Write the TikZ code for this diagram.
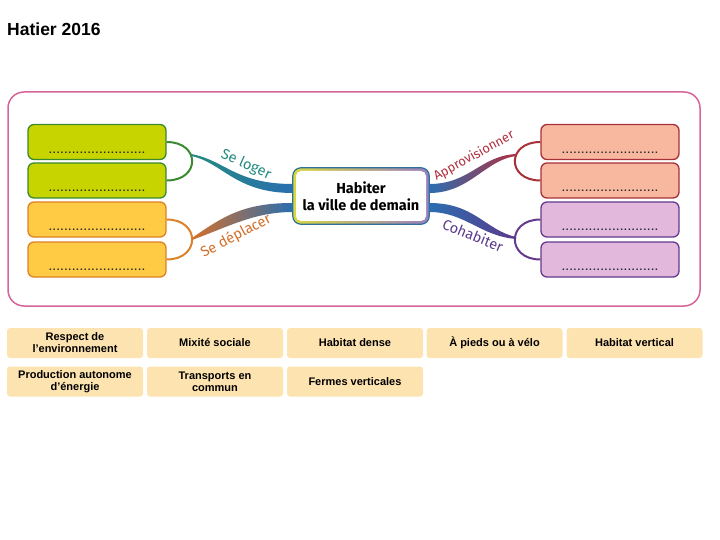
\documentclass[tikz,border=0pt]{standalone}
\usepackage{fontspec}
\usepackage{tikz}
\usetikzlibrary{
	positioning,
	calc,
	backgrounds
}
\newfontfamily\mapfont{Fira Sans}
\newfontfamily\cardfont{Liberation Sans}

\definecolor{leafgreen}{HTML}{C8D400}
\definecolor{leafgreenline}{HTML}{3A8A30}
\definecolor{leaforange}{HTML}{FFCB45}
\definecolor{leaforangeline}{HTML}{DC8228}
\definecolor{leafsalmon}{HTML}{F8B8A0}
\definecolor{leafsalmonline}{HTML}{A83038}
\definecolor{leafmauve}{HTML}{E2B8DC}
\definecolor{leafmauveline}{HTML}{643A8C}
\definecolor{frameline}{HTML}{D6669A}
\definecolor{cardpeach}{HTML}{FDE3B0}
\definecolor{hubblue}{HTML}{2A6EB0}
\definecolor{hubedge}{HTML}{2E7098}
\definecolor{hubyellow}{HTML}{D8D840}
\definecolor{hubviolet}{HTML}{9A80C0}
\definecolor{tealtext}{HTML}{238C80}
\definecolor{orangetext}{HTML}{D2702C}
\definecolor{redtext}{HTML}{B03040}
\definecolor{purpletext}{HTML}{5C3A8C}

\begin{document}
\begin{tikzpicture}[
	x=1pt, y=-1pt,
	c_leaf/.style={
		draw,
		line width=1.3pt,
		rounded corners=6pt,
		minimum width=138pt,
		minimum height=35pt,
		inner sep=0pt
	},
	c_dots/.style={
		font=\cardfont\bfseries\fontsize{10}{10}\selectfont\addfontfeatures{LetterSpace=11},
		text=black!85,
		inner sep=0pt,
		anchor=base
	},
	c_card/.style={
		fill=cardpeach,
		rounded corners=3pt,
		minimum width=136pt,
		minimum height=30pt,
		inner sep=1pt,
		align=center,
		font=\cardfont\bfseries\fontsize{11}{12}\selectfont
	},
	c_branch/.style={
		font=\mapfont\fontsize{14.5}{14.5}\selectfont,
		inner sep=0pt
	},
	c_link/.style={
		line width=2pt
	}
	]

	\useasboundingbox (0,0) rectangle (720,540);

	% =========================================================================
	% TITLE
	% =========================================================================

	\node[font=\cardfont\bfseries\fontsize{17.5}{17.5}\selectfont,
	anchor=base west, inner sep=0pt]
	(title) at (7,36) {Hatier 2016};

	% =========================================================================
	% CENTRE
	% =========================================================================

	\node[
	fill=white,
	rounded corners=5pt,
	minimum width=130pt,
	minimum height=50pt,
	align=center,
	font=\mapfont\bfseries\fontsize{14.5}{17}\selectfont
	]
	(hub) at (361,196) {Habiter\\la ville de demain};

	\begin{scope}[on background layer]
		% Frame
		\draw[frameline, fill=white, line width=1.5pt, rounded corners=16pt]
		(8,92) rectangle (700,306);
		% Hub border
		\shade[rounded corners=8pt, left color=hubyellow, right color=hubviolet]
		($(hub.north west)+(-3,-3)$) rectangle ($(hub.south east)+(3,3)$);
		\draw[hubedge, line width=1.2pt, rounded corners=8pt]
		($(hub.north west)+(-3,-3)$) rectangle ($(hub.south east)+(3,3)$);
	\end{scope}

	% =========================================================================
	% LEFT LEAVES
	% =========================================================================

	\node[c_leaf, draw=leafgreenline, fill=leafgreen] (g1) at (97,142) {};
	\node[c_leaf, draw=leafgreenline, fill=leafgreen] (g2) at (97,180.5) {};
	\node[c_leaf, draw=leaforangeline, fill=leaforange] (o1) at (97,219.5) {};
	\node[c_leaf, draw=leaforangeline, fill=leaforange] (o2) at (97,259.5) {};

	% =========================================================================
	% RIGHT LEAVES
	% =========================================================================

	\node[c_leaf, draw=leafsalmonline, fill=leafsalmon] (r1) at (610,142) {};
	\node[c_leaf, draw=leafsalmonline, fill=leafsalmon] (r2) at (610,180.5) {};
	\node[c_leaf, draw=leafmauveline, fill=leafmauve] (p1) at (610,219.5) {};
	\node[c_leaf, draw=leafmauveline, fill=leafmauve] (p2) at (610,259.5) {};

	% Dotted blanks
	\foreach \b in {g1,g2,o1,o2,r1,r2,p1,p2}
	{
		\node[c_dots] (dots-\b) at ($(\b.south)+(0,-7)$)
		{.........................};
	}

	% =========================================================================
	% BRACKETS
	% =========================================================================

	\draw[c_link, leafgreenline]
	(g1.east) .. controls +(34,0) and +(34,0) .. (g2.east);

	\draw[c_link, leaforangeline]
	(o1.east) .. controls +(34,0) and +(34,0) .. (o2.east);

	\draw[c_link, leafsalmonline]
	(r1.west) .. controls +(-34,0) and +(-34,0) .. (r2.west);

	\draw[c_link, leafmauveline]
	(p1.west) .. controls +(-34,0) and +(-34,0) .. (p2.west);

	\coordinate (loger) at (191,155);
	\coordinate (deplacer) at (192,239);
	\coordinate (appro) at (516,155);
	\coordinate (cohab) at (516,238);

	% =========================================================================
	% BRANCHES
	% =========================================================================

	% Se loger
	\shade[left color=tealtext, right color=hubblue]
	($(loger)+(0,-1)$) .. controls (225,160) and (235,184) .. ($(hub.west)+(-3,-12)$)
	-- ($(hub.west)+(-3,-3)$) .. controls (235,193) and (222,162) .. ($(loger)+(0,1)$)
	-- cycle;

	% Se deplacer
	\shade[left color=orangetext, middle color=purpletext!60, right color=hubblue]
	($(deplacer)+(0,-1)$) .. controls (225,215) and (245,203) .. ($(hub.west)+(-3,7)$)
	-- ($(hub.west)+(-3,16)$) .. controls (255,212) and (230,226) .. ($(deplacer)+(0,1)$)
	-- cycle;

	% Approvisionner
	\shade[left color=hubblue, right color=redtext]
	($(hub.east)+(3,-12)$) .. controls (470,184) and (480,156) .. ($(appro)+(0,-1)$)
	-- ($(appro)+(0,1)$) .. controls (485,160) and (470,193) .. ($(hub.east)+(3,-3)$)
	-- cycle;

	% Cohabiter
	\shade[left color=hubblue, right color=purpletext]
	($(hub.east)+(3,7)$) .. controls (475,203) and (485,230) .. ($(cohab)+(0,-1)$)
	-- ($(cohab)+(0,1)$) .. controls (480,236) and (465,212) .. ($(hub.east)+(3,16)$)
	-- cycle;

	% Branch labels
	\node[c_branch, tealtext, rotate=-24] (l-loger) at (246,165) {Se loger};
	\node[c_branch, orangetext, rotate=28] (l-deplacer) at (236,236) {Se déplacer};
	\node[c_branch, redtext, rotate=29, font=\mapfont\fontsize{13}{13}\selectfont]
	(l-appro) at (474,156) {Approvisionner};
	\node[c_branch, purpletext, rotate=-22] (l-cohab) at (473,235) {Cohabiter};

	% =========================================================================
	% WORD CARDS
	% =========================================================================

	\node[c_card] (k1) at (75,343) {Respect de\\l’environnement};
	\node[c_card] (k2) at (215,343) {Mixité sociale};
	\node[c_card] (k3) at (355,343) {Habitat dense};
	\node[c_card] (k4) at (494.5,343) {À pieds ou à vélo};
	\node[c_card] (k5) at (634.5,343) {Habitat vertical};

	\node[c_card] (k6) at (75,381.5) {Production autonome\\d’énergie};
	\node[c_card] (k7) at (215,381.5) {Transports en\\commun};
	\node[c_card] (k8) at (355,381.5) {Fermes verticales};

\end{tikzpicture}
\end{document}
